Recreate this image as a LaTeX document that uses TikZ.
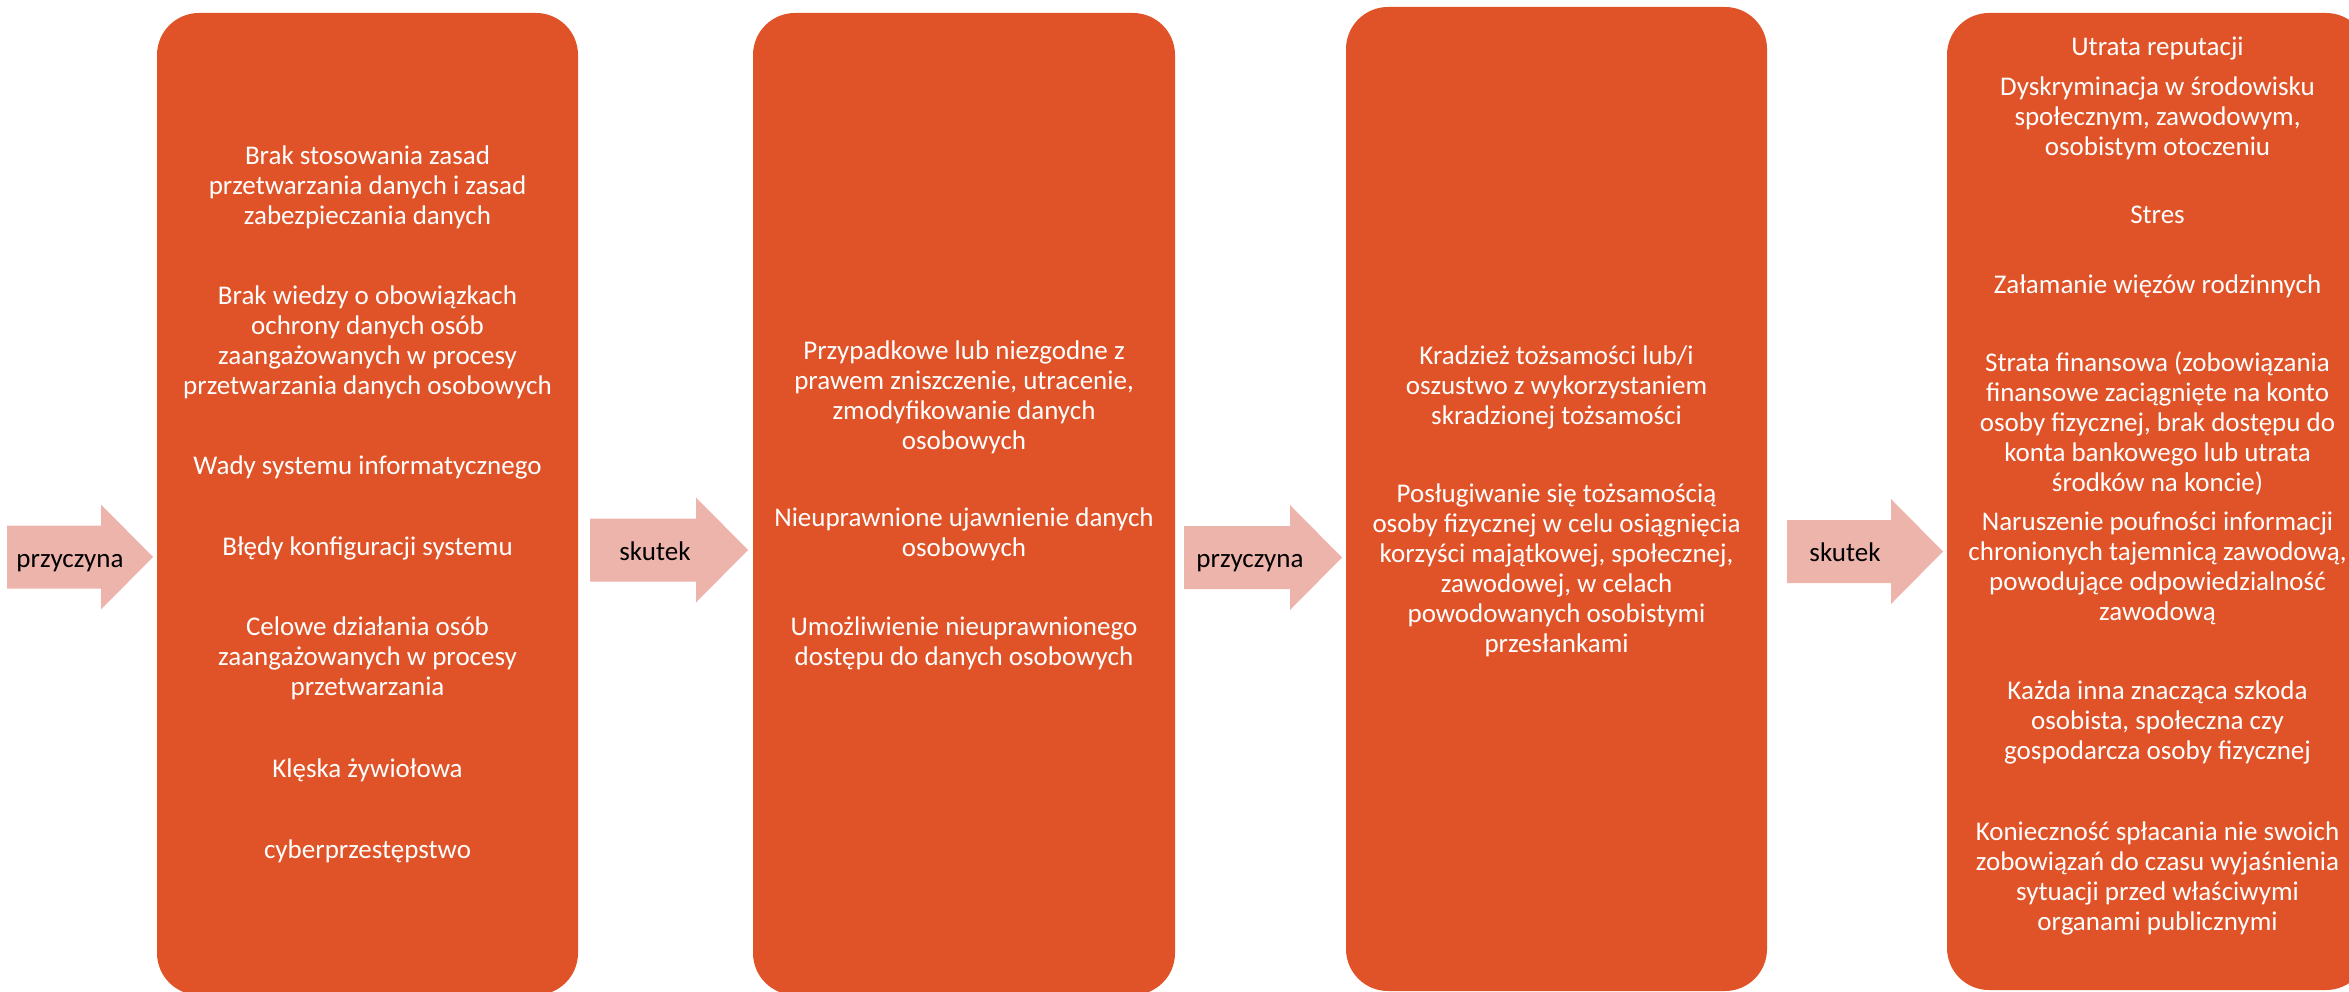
\documentclass[tikz,border=0pt]{standalone}
\usepackage{fontspec}
\setmainfont{Carlito}
\definecolor{boxorange}{HTML}{E05328}
\definecolor{arrowpink}{HTML}{EDB4AC}
\tikzset{
  stage/.style={fill=boxorange, draw=none, rounded corners=42pt, inner sep=0pt},
  boxtext/.style={text=white, font=\fontsize{27}{30}\selectfont, align=center,
                  anchor=north, inner sep=0pt},
  arrowtext/.style={text=black, font=\fontsize{27}{30}\selectfont, anchor=base, inner sep=0pt},
  arrowfill/.style={fill=arrowpink, draw=none},
}
% block arrow: name, left x, tip x, centre y, label centre x, label
\newcommand\blockarrow[6]{%
  \fill[arrowfill] (#2,#4-31.5) -- (#3-52,#4-31.5) -- (#3-52,#4-52.5) -- (#3,#4)
    -- (#3-52,#4+52.5) -- (#3-52,#4+31.5) -- (#2,#4+31.5) -- cycle;
  \node[arrowtext] (#1) at (#5,#4+10) {#6};
}
\begin{document}
\begin{tikzpicture}[x=1pt,y=-1pt]
\useasboundingbox (0,0) rectangle (2349,992);
\clip (0,0) rectangle (2349,992);

% the four stages
\node[stage, minimum width=421pt, minimum height=982pt] (stage1) at (367.5,504) {};
\node[stage, minimum width=422pt, minimum height=982pt] (stage2) at (964,504) {};
\node[stage, minimum width=421pt, minimum height=984pt] (stage3) at (1556.5,499) {};
\node[stage, minimum width=421pt, minimum height=977pt] (stage4) at (2157.5,501.5) {};

% causes
\node[boxtext] (c1) at (367.5,143) {\strut Brak stosowania zasad\\przetwarzania danych i zasad\\zabezpieczania danych};
\node[boxtext] (c2) at (367.5,283) {\strut Brak wiedzy o obowiązkach\\ochrony danych osób\\zaangażowanych w procesy\\przetwarzania danych osobowych};
\node[boxtext] (c3) at (367.5,453) {\strut Wady systemu informatycznego};
\node[boxtext] (c4) at (367.5,534) {\strut Błędy konfiguracji systemu};
\node[boxtext] (c5) at (367.5,614) {\strut Celowe działania osób\\zaangażowanych w procesy\\przetwarzania};
\node[boxtext] (c6) at (367.5,756) {\strut Klęska żywiołowa};
\node[boxtext] (c7) at (367.5,837) {\strut cyberprzestępstwo};

% incidents
\node[boxtext] (i1) at (964,338) {\strut Przypadkowe lub niezgodne z\\prawem zniszczenie, utracenie,\\zmodyfikowanie danych\\osobowych};
\node[boxtext] (i2) at (964,505) {\strut Nieuprawnione ujawnienie danych\\osobowych};
\node[boxtext] (i3) at (964,614) {\strut Umożliwienie nieuprawnionego\\dostępu do danych osobowych};

% misuse
\node[boxtext] (m1) at (1556.5,343) {\strut Kradzież tożsamości lub/i\\oszustwo z wykorzystaniem\\skradzionej tożsamości};
\node[boxtext] (m2) at (1556.5,481) {\strut Posługiwanie się tożsamością\\osoby fizycznej w celu osiągnięcia\\korzyści majątkowej, społecznej,\\zawodowej, w celach\\powodowanych osobistymi\\przesłankami};

% consequences
\node[boxtext] (e1) at (2157.5,34) {\strut Utrata reputacji};
\node[boxtext] (e2) at (2157.5,74) {\strut Dyskryminacja w środowisku\\społecznym, zawodowym,\\osobistym otoczeniu};
\node[boxtext] (e3) at (2157.5,202) {\strut Stres};
\node[boxtext] (e4) at (2157.5,272) {\strut Załamanie więzów rodzinnych};
\node[boxtext] (e5) at (2157.5,350) {\strut Strata finansowa (zobowiązania\\finansowe zaciągnięte na konto\\osoby fizycznej, brak dostępu do\\konta bankowego lub utrata\\środków na koncie)};
\node[boxtext] (e6) at (2157.5,509) {\strut Naruszenie poufności informacji\\chronionych tajemnicą zawodową,\\powodujące odpowiedzialność\\zawodową};
\node[boxtext] (e7) at (2157.5,678) {\strut Każda inna znacząca szkoda\\osobista, społeczna czy\\gospodarcza osoby fizycznej};
\node[boxtext] (e8) at (2157.5,819) {\strut Konieczność spłacania nie swoich\\zobowiązań do czasu wyjaśnienia\\sytuacji przed właściwymi\\organami publicznymi};

% block arrows between the stages
\blockarrow{a1}{7}{153}{557}{70}{przyczyna}
\blockarrow{a2}{590}{748}{550}{655}{skutek}
\blockarrow{a3}{1184}{1342}{557.5}{1250}{przyczyna}
\blockarrow{a4}{1787}{1943}{551.5}{1845}{skutek}
\end{tikzpicture}
\end{document}
